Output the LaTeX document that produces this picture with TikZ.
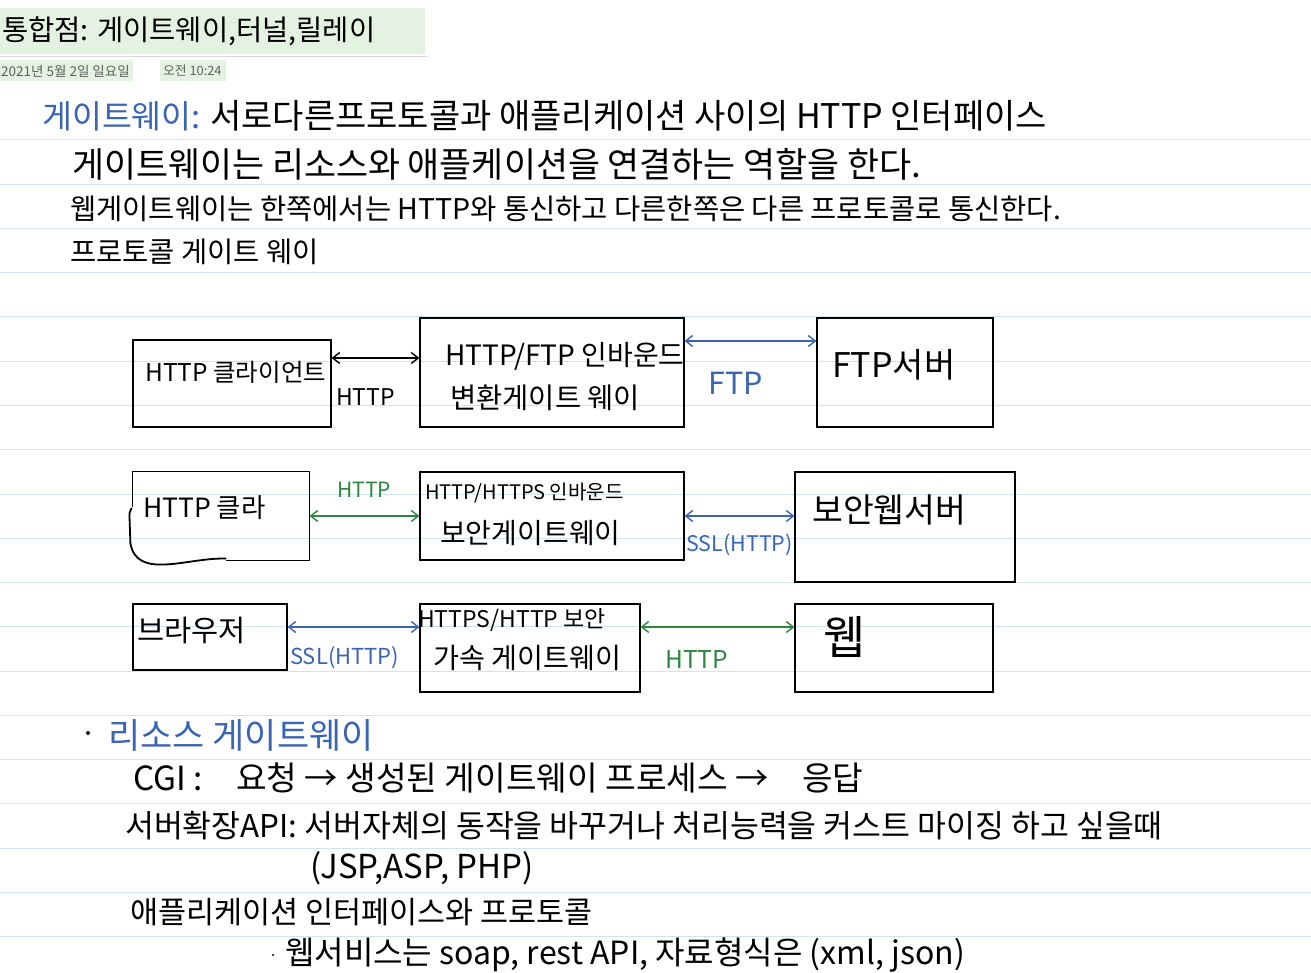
\documentclass[tikz,border=0pt]{standalone}
\usepackage{fontspec}
\setmainfont{Noto Sans CJK KR}
\usetikzlibrary{arrows.meta, calc, fit}
\definecolor{inkblue}{HTML}{3A64B4}
\definecolor{inkgreen}{HTML}{2E8540}
\definecolor{ruleblue}{HTML}{CFE4EE}
\definecolor{titlebg}{HTML}{E4F3E1}
\definecolor{metagray}{HTML}{5F5F5F}

\begin{document}
\begin{tikzpicture}[
  x=1pt, y=-1pt,
  hw/.style       = {font=\fontsize{#1pt}{#1pt}\selectfont, inner sep=0pt, anchor=west},
  gwbox/.style    = {draw=black, line width=1.2pt, inner sep=0pt},
  ruleline/.style = {draw=ruleblue, line width=1pt},
  link/.style     = {{Straight Barb[length=7pt,width=11pt]}-{Straight Barb[length=7pt,width=11pt]},
                     line width=1.4pt},
  pen/.style      = {line width=1.8pt, line cap=round, line join=round},
]

  % ------------------------------------------------------------- page
  \useasboundingbox (0,0) rectangle (1311,973);
  \fill[white] (0,0) rectangle (1311,973);
  \foreach \k in {0,...,18}
    \draw[ruleline] (0,{140+44.25*\k}) -- (1311,{140+44.25*\k});

  % ------------------------------------------------------------- title
  \fill[titlebg] (0,8) rectangle (425,54);
  \draw[draw=black!15, line width=1pt] (0,57) -- (428,57);
  \fill[titlebg] (0,60) rectangle (133,81);
  \fill[titlebg] (160,60) rectangle (226,81);
  \node[hw=28.5]                (title) at (2,31)  {통합점: 게이트웨이,터널,릴레이};
  \node[hw=13.5, text=metagray] (date)  at (1,71)  {2021년 5월 2일 일요일};
  \node[hw=12.8, text=metagray] (time)  at (163,71) {오전 10:24};

  % ------------------------------------------------------------- notes
  \node[hw=32.5, text=inkblue] (gw)   at (42,116)  {게이트웨이:};
  \node[hw=34]                 (def)  at (210,116) {서로다른프로토콜과 애플리케이션 사이의 HTTP 인터페이스};
  \node[hw=34.8]               (n1)   at (72,164)  {게이트웨이는 리소스와 애플케이션을 연결하는 역할을 한다.};
  \node[hw=28.5]               (n2)   at (70,209)  {웹게이트웨이는 한쪽에서는 HTTP와 통신하고 다른한쪽은 다른 프로토콜로 통신한다.};
  \node[hw=28.5]               (n3)   at (70,252)  {프로토콜 게이트 웨이};

  % ------------------------------------------------------------- boxes
  \node[gwbox, fit={(133,340) (331,427)}] (a1) {};
  \node[gwbox, fit={(420,318) (684,427)}] (b1) {};
  \node[gwbox, fit={(817,318) (993,427)}] (c1) {};
  \node[gwbox, draw=none, fit={(133,472) (309,560)}] (a2) {};
  \node[gwbox, fit={(420,472) (684,560)}] (b2) {};
  \node[gwbox, fit={(795,472) (1015,582)}] (c2) {};
  \node[gwbox, fit={(133,604) (287,670)}] (a3) {};
  \node[gwbox, fit={(420,604) (640,692)}] (b3) {};
  \node[gwbox, fit={(795,604) (993,692)}] (c3) {};

  % half-drawn client box
  \draw[line width=1.2pt] ($(a2.north west)+(0,36)$) -- (a2.north west) -- (a2.north east)
        -- (a2.south east) -- ++(-84,0) coordinate (a2cut);
  \draw[pen] ($(a2.north west)+(-1,37)$) -- ++(-2,5) -- ++(1,30)
        to[out=-80,in=178] ($(a2cut)+(0,-2)$);

  % ------------------------------------------------------------- box texts
  \node[hw=24.5] (ta1)  at (145,372) {HTTP 클라이언트};
  \node[hw=28]   (tb1a) at (445,356) {HTTP/FTP 인바운드};
  \node[hw=28.5] (tb1b) at (450,398) {변환게이트 웨이};
  \node[hw=34]   (tc1)  at (832,365) {FTP서버};
  \node[hw=26.5] (ta2)  at (143,508) {HTTP 클라};
  \node[hw=20]   (tb2a) at (425,493) {HTTP/HTTPS 인바운드};
  \node[hw=28]   (tb2b) at (440,533) {보안게이트웨이};
  \node[hw=33.5] (tc2)  at (812,510) {보안웹서버};
  \node[hw=29.5] (ta3)  at (137,630) {브라우저};
  \node[hw=23]   (tb3a) at (418,620) {HTTPS/HTTP 보안};
  \node[hw=28.2] (tb3b) at (433,658) {가속 게이트웨이};
  \node[hw=46]   (tc3)  at (823,637) {웹};

  % ------------------------------------------------------------- links
  \coordinate (y1a) at (0,358);
  \coordinate (y1b) at (0,341);
  \coordinate (y2)  at (0,516);
  \coordinate (y3)  at (0,627);
  \draw[link]                 (a1.east |- y1a) -- (b1.west |- y1a);
  \draw[link, draw=inkblue]   (b1.east |- y1b) -- (c1.west |- y1b);
  \draw[link, draw=inkgreen]  (a2.east |- y2)  -- (b2.west |- y2);
  \draw[link, draw=inkblue]   (b2.east |- y2)  -- (c2.west |- y2);
  \draw[link, draw=inkblue]   (a3.east |- y3)  -- (b3.west |- y3);
  \draw[link, draw=inkgreen]  (b3.east |- y3)  -- (c3.west |- y3);

  \node[hw=23]                  (l1a) at (336,397) {HTTP};
  \node[hw=30.5, text=inkblue]  (l1b) at (708,383) {FTP};
  \node[hw=21, text=inkgreen]   (l2a) at (337,490) {HTTP};
  \node[hw=21.5, text=inkblue]  (l2b) at (686,545) {SSL(HTTP)};
  \node[hw=22, text=inkblue]    (l3a) at (290,658) {SSL(HTTP)};
  \node[hw=24.5, text=inkgreen] (l3b) at (665,660) {HTTP};

  % ------------------------------------------------------------- resource gateway
  \fill (88,733) circle (2);
  \node[hw=35, text=inkblue] (res) at (108,735) {리소스 게이트웨이};
  \node[hw=33.3] (cgi) at (133,778) {CGI :\quad 요청 → 생성된 게이트웨이 프로세스 →\quad 응답};
  \node[hw=31.4] (api) at (125,826) {서버확장API: 서버자체의 동작을 바꾸거나 처리능력을 커스트 마이징 하고 싶을때};
  \node[hw=33] (jsp) at (310,868) {(JSP,ASP, PHP)};
  \node[hw=30.5] (app) at (130,912) {애플리케이션 인터페이스와 프로토콜};
  \fill (273,955) circle (1.2);
  \node[hw=32] (ws)  at (285,955) {웹서비스는 soap, rest API, 자료형식은 (xml, json)};

\end{tikzpicture}
\end{document}
